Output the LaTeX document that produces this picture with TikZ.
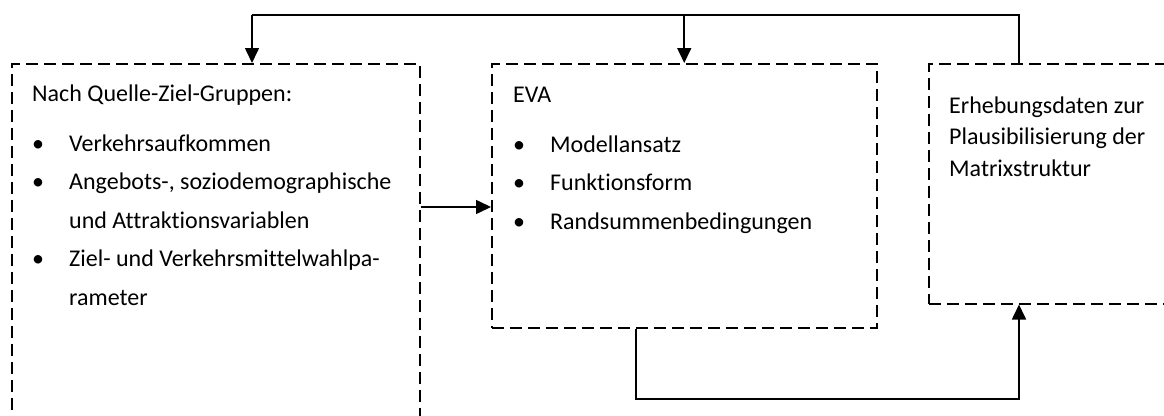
\documentclass[tikz,border=0pt]{standalone}
\usepackage{fontspec}
\setmainfont[Ligatures=NoCommon]{Carlito}
\usetikzlibrary{positioning,arrows.meta}

\tikzset{
    box/.style={draw, dashed, dash pattern=on 12pt off 6pt, line width=1.5pt, anchor=north west, inner sep=0pt},
    boxtext/.style={anchor=base west, inner sep=0pt, align=left, font=\fontsize{24}{38.5}\selectfont},
    flow/.style={line width=1.6pt, -{Triangle[length=15pt,width=14pt]}}
}
\newcommand{\bul}{\makebox[37pt][l]{\textbullet}}
\newcommand{\ind}{\hspace*{37pt}}

\begin{document}
\begin{tikzpicture}[x=1pt, y=-1pt]
    \clip (0,0) rectangle (1164,415);

    % the three boxes
    \node[box, minimum width=408pt, minimum height=380pt] (source box) at (11,63) {};
    \node[box, minimum width=385pt, minimum height=264pt] (eva box) at (491,63) {};
    \node[box, minimum width=260pt, minimum height=240pt] (data box) at (928,63) {};

    % texts (anchored on the baseline of their last line)
    \node[boxtext] (source text) at (32,305) {Nach Quelle-Ziel-Gruppen:\\[11.5pt]
        \bul Verkehrsaufkommen\\
        \bul Angebots-, soziodemographische\\
        \ind und Attraktionsvariablen\\
        \bul Ziel- und Verkehrsmittelwahlpa-\\
        \ind rameter};
    \node[boxtext] (eva text) at (513,229) {EVA\\[11.5pt]
        \bul Modellansatz\\
        \bul Funktionsform\\
        \bul Randsummenbedingungen};
    \node[boxtext, font=\fontsize{24}{31.5}\selectfont] (data text) at (949,176) {Erhebungsdaten zur\\
        Plausibilisierung der\\
        Matrixstruktur};

    % feedback line on top
    \coordinate (top right) at (1019,15);
    \coordinate (top left) at (252,15);
    \draw[line width=1.6pt] (data box.north west -| top right) -- (top right) -- (top left);
    \draw[flow] (top left) -- (source box.north west -| top left);
    \draw[flow] (eva box.north |- top left) -- (eva box.north);

    % source to EVA
    \coordinate (mid) at (0,207);
    \draw[flow] (source box.east |- mid) -- (eva box.west |- mid);

    % EVA to survey data
    \coordinate (low) at (636,399);
    \draw[flow] (eva box.south west -| low) -- (low) -- (low -| top right) -- (data box.south west -| top right);
\end{tikzpicture}
\end{document}
